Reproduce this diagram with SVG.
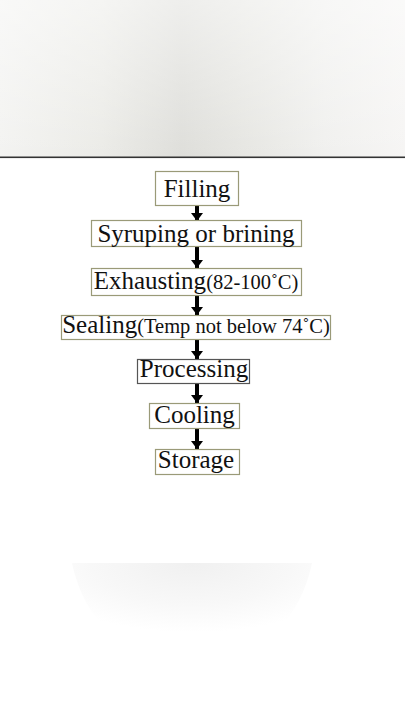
<svg xmlns="http://www.w3.org/2000/svg" width="405" height="720" viewBox="0 0 405 720">
  <defs>
    <linearGradient id="topbg" x1="0" y1="0" x2="1" y2="0">
      <stop offset="0" stop-color="#f3f3f1"/>
      <stop offset="0.25" stop-color="#ebebe7"/>
      <stop offset="0.45" stop-color="#dededa"/>
      <stop offset="0.6" stop-color="#e6e6e2"/>
      <stop offset="0.8" stop-color="#f0f0ee"/>
      <stop offset="1" stop-color="#f6f5f4"/>
    </linearGradient>
    <linearGradient id="topfade" x1="0" y1="0" x2="0" y2="1">
      <stop offset="0" stop-color="#ffffff" stop-opacity="0.5"/>
      <stop offset="1" stop-color="#ffffff" stop-opacity="0"/>
    </linearGradient>
    <radialGradient id="bowl" cx="0.5" cy="0" r="0.7">
      <stop offset="0" stop-color="#f0f0f0"/>
      <stop offset="0.6" stop-color="#f8f8f8"/>
      <stop offset="1" stop-color="#ffffff"/>
    </radialGradient>
    <marker id="head" viewBox="0 0 8 12" markerWidth="8" markerHeight="12" refX="8" refY="6" orient="auto" markerUnits="userSpaceOnUse">
      <path d="M0,0 L8,6 L0,12 Z" fill="#000"/>
    </marker>
  </defs>
  <style>
    .box { fill: #ffffff; stroke: #9a9a78; stroke-width: 1.2; }
    .dark { stroke: #555555; }
    .t { font-family: "Liberation Serif", "Times New Roman", serif; font-size: 25px; fill: #111; text-anchor: middle; }
    .s { font-size: 20.5px; }
    .arr { stroke: #000; stroke-width: 4; fill: none; marker-end: url(#head); }
  </style>

  <rect x="0" y="0" width="405" height="157" fill="url(#topbg)"/>
  <rect x="0" y="0" width="405" height="157" fill="url(#topfade)"/>
  <rect x="0" y="156.5" width="405" height="1.8" fill="#333"/>
  <rect x="0" y="158.3" width="405" height="561.7" fill="#ffffff"/>
  <path d="M72,563 L312,563 C300,620 260,662 192,662 C124,662 84,620 72,563 Z" fill="url(#bowl)"/>

  <g id="connectors">
    <path class="arr" d="M197,205 V221"/>
    <path class="arr" d="M197,246 V268"/>
    <path class="arr" d="M197,295 V315"/>
    <path class="arr" d="M197,339 V359"/>
    <path class="arr" d="M197,383 V403"/>
    <path class="arr" d="M197,428 V449"/>
  </g>

  <g id="filling">
    <rect class="box" x="155.5" y="171.5" width="83" height="34"/>
    <text class="t" x="197" y="197">Filling</text>
  </g>
  <g id="syruping">
    <rect class="box" x="91.5" y="220.5" width="210" height="26"/>
    <text class="t" x="196" y="242">Syruping or brining</text>
  </g>
  <g id="exhausting">
    <rect class="box" x="91.5" y="268.5" width="210" height="27"/>
    <text class="t" x="196" y="289">Exhausting<tspan class="s">(82-100˚C)</tspan></text>
  </g>
  <g id="sealing">
    <rect class="box" x="61.5" y="315.5" width="269" height="24"/>
    <text class="t" x="196" y="333">Sealing<tspan class="s">(Temp not below 74˚C)</tspan></text>
  </g>
  <g id="processing">
    <rect class="box dark" x="137.5" y="359.5" width="112" height="24"/>
    <text class="t" x="194" y="377">Processing</text>
  </g>
  <g id="cooling">
    <rect class="box" x="149.5" y="403.5" width="90" height="25"/>
    <text class="t" x="194.5" y="423">Cooling</text>
  </g>
  <g id="storage">
    <rect class="box" x="155.5" y="449.5" width="84" height="25"/>
    <text class="t" x="196" y="468">Storage</text>
  </g>
</svg>
